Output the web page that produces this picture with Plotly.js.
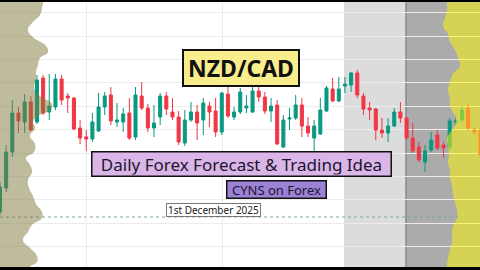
<!DOCTYPE html>
<html><head><meta charset="utf-8">
<script src="https://cdn.plot.ly/plotly-3.0.1.min.js"></script>
<style>html,body{margin:0;padding:0;background:#000;}#c{width:480px;height:270px;}</style>
</head><body><div id="c"></div><script>
// Candle index (session bars)
const bars = [0,1,2,3,4,5,6,7,8,9,10,11,12,13,14,15,16,17,18,19,20,21,22,23,24,25,26,27,28,29,30,31,32,33,34,35,36,37,38,39,40,41,42,43,44,45,46,47,48,49,50,51,52,53,54,55,56,57,58,59,60,61,62,63,64,65,66,67,68,69,70,71,72,73,74,75,76,77,78];
const openP  = [0.7858,0.7882,0.7918,0.7957,0.7948,0.7968,0.7948,0.7992,0.7958,0.7963,0.7991,0.7974,0.7972,0.7942,0.7933,0.7931,0.7939,0.7963,0.7975,0.7948,0.7948,0.7957,0.7933,0.7974,0.7962,0.7942,0.7953,0.7974,0.7958,0.7953,0.7927,0.7950,0.7958,0.7950,0.7964,0.7959,0.7938,0.7976,0.7953,0.7958,0.7962,0.7958,0.7979,0.7973,0.7959,0.7965,0.7923,0.7951,0.7952,0.7965,0.7944,0.7932,0.7936,0.7959,0.7981,0.7969,0.7984,0.7985,0.7997,0.7974,0.7962,0.7961,0.7940,0.7937,0.7944,0.7958,0.7952,0.7932,0.7923,0.7908,0.7920,0.7935,0.7925,0.7923,0.7948,0.7950,0.7962,0.7940,0.7940];
const highP  = [0.7888,0.7925,0.7970,0.7963,0.7976,0.7974,0.7995,0.7995,0.7996,0.7996,0.7995,0.7977,0.7973,0.7950,0.7940,0.7957,0.7977,0.7978,0.7983,0.7967,0.7962,0.7972,0.7983,0.7988,0.7966,0.7965,0.7977,0.7978,0.7972,0.7959,0.7960,0.7968,0.7965,0.7972,0.7968,0.7972,0.7978,0.7988,0.7963,0.7982,0.7975,0.7983,0.7987,0.7978,0.7972,0.7970,0.7955,0.7962,0.7975,0.7972,0.7953,0.7950,0.7972,0.7984,0.7992,0.7993,0.7993,0.7998,0.8000,0.7977,0.7968,0.7962,0.7952,0.7952,0.7962,0.7968,0.7953,0.7947,0.7928,0.7925,0.7938,0.7940,0.7928,0.7952,0.7955,0.7964,0.7966,0.7942,0.7942];
const lowP   = [0.7855,0.7878,0.7913,0.7937,0.7937,0.7939,0.7946,0.7955,0.7950,0.7960,0.7965,0.7957,0.7940,0.7926,0.7919,0.7928,0.7938,0.7955,0.7945,0.7943,0.7938,0.7930,0.7930,0.7960,0.7938,0.7933,0.7945,0.7955,0.7950,0.7925,0.7924,0.7948,0.7930,0.7935,0.7943,0.7933,0.7935,0.7952,0.7950,0.7956,0.7957,0.7957,0.7968,0.7956,0.7948,0.7925,0.7922,0.7940,0.7950,0.7933,0.7933,0.7918,0.7935,0.7958,0.7968,0.7968,0.7977,0.7978,0.7972,0.7955,0.7950,0.7930,0.7932,0.7928,0.7943,0.7947,0.7930,0.7917,0.7908,0.7898,0.7918,0.7920,0.7912,0.7920,0.7945,0.7948,0.7940,0.7935,0.7910];
const closeP = [0.7883,0.7918,0.7957,0.7949,0.7968,0.7940,0.7990,0.7957,0.7964,0.7991,0.7970,0.7972,0.7941,0.7932,0.7931,0.7948,0.7963,0.7974,0.7949,0.7950,0.7956,0.7932,0.7975,0.7962,0.7942,0.7947,0.7974,0.7961,0.7953,0.7928,0.7950,0.7958,0.7947,0.7967,0.7958,0.7938,0.7977,0.7954,0.7958,0.7978,0.7964,0.7979,0.7973,0.7959,0.7964,0.7926,0.7950,0.7952,0.7965,0.7944,0.7937,0.7944,0.7960,0.7982,0.7969,0.7981,0.7986,0.7997,0.7975,0.7961,0.7960,0.7940,0.7937,0.7944,0.7958,0.7952,0.7932,0.7919,0.7910,0.7919,0.7930,0.7922,0.7922,0.7949,0.7949,0.7960,0.7942,0.7938,0.7915];

// Left volume profile (fixed range) : price level -> volume
const vpLeftPrice = [0.8075,0.8068,0.8062,0.8055,0.8048,0.8040,0.8032,0.8025,0.8018,0.8012,0.8005,0.7998,0.7990,0.7982,0.7974,0.7966,0.7960,0.7954,0.7948,0.7942,0.7934,0.7926,0.7918,0.7912,0.7905,0.7898,0.7890,0.7882,0.7874,0.7866,0.7858,0.7852,0.7845,0.7838,0.7830,0.7822,0.7814,0.7808,0.7803,0.7796];
const vpLeftVol   = [43,43,42,40,33,28,34,45,48,40,38,36,36,34,40,52,50,38,33,35,30,35,34,26,30,32,28,29,33,36,42,42,32,28,23,30,37,37,30,30];
// Right volume profile (session) : price level -> volume
const vpRightPrice = [0.8075,0.8068,0.8060,0.8052,0.8044,0.8036,0.8028,0.8020,0.8012,0.8004,0.7996,0.7988,0.7980,0.7972,0.7964,0.7956,0.7948,0.7940,0.7932,0.7924,0.7916,0.7908,0.7900,0.7892,0.7884,0.7876,0.7868,0.7860,0.7852,0.7844,0.7836,0.7828,0.7820,0.7812,0.7803,0.7796];
const vpRightVol   = [33,33,33,35,37,32,30,25,22,20,27,30,32,30,30,26,24,28,33,32,31,32,30,30,28,27,25,23,23,27,28,28,30,32,33,33];

const currentPrice = [0.7853];
const labels = {pair:'NZD/CAD', title:'Daily Forex Forecast &amp; Trading Idea', brand:'CYNS on Forex', date:'1st December 2025'};

const traces = [
  {type:'candlestick', x:bars, open:openP, high:highP, low:lowP, close:closeP, xaxis:'x', yaxis:'y',
   increasing:{line:{color:'#089981', width:1}, fillcolor:'#089981'},
   decreasing:{line:{color:'#f23645', width:1}, fillcolor:'#f23645'},
   whiskerwidth:0, hoverinfo:'skip'},
  {type:'scatter', mode:'lines', x:vpLeftVol, y:vpLeftPrice, xaxis:'x2', yaxis:'y', fill:'tozerox',
   line:{width:0, shape:'spline', smoothing:1.3, color:'rgba(127,121,59,0)'}, fillcolor:'rgba(127,121,59,0.5)', hoverinfo:'skip'},
  {type:'scatter', mode:'lines', x:vpRightVol, y:vpRightPrice, xaxis:'x3', yaxis:'y', fill:'tozerox',
   line:{width:0, shape:'spline', smoothing:1.3, color:'rgba(255,249,0,0)'}, fillcolor:'rgba(255,249,0,0.5)', hoverinfo:'skip'}
];

const layout = {
  width:480, height:270, margin:{l:0,r:0,t:2,b:3,pad:0},
  paper_bgcolor:'#000', plot_bgcolor:'#ffffff', showlegend:false,
  xaxis:{range:[0,77.92], tickmode:'array', tickvals:[13.96,36.04], showgrid:true, gridcolor:'#ececec', gridwidth:1,
         showticklabels:false, ticks:'', zeroline:false, showline:false, rangeslider:{visible:false}, fixedrange:true},
  xaxis2:{overlaying:'x', range:[0,480], visible:false, fixedrange:true},
  xaxis3:{overlaying:'x', range:[480,0], visible:false, fixedrange:true},
  yaxis:{range:[0.7803,0.8068], tick0:0.80573, dtick:0.00234, showgrid:true, gridcolor:'#ececec', gridwidth:1,
         showticklabels:false, ticks:'', zeroline:false, showline:false, fixedrange:true},
  shapes:[
    {type:'rect', xref:'x', yref:'paper', x0:55.84, x1:65.9, y0:0, y1:1, fillcolor:'#dcdcdc', line:{width:0}, layer:'below'},
    {type:'rect', xref:'x', yref:'paper', x0:65.9, x1:80, y0:0, y1:1, fillcolor:'#ababab', line:{width:0}, layer:'below'},
    {type:'line', xref:'x', yref:'paper', x0:65.9, x1:65.9, y0:0, y1:1, line:{color:'#6e6e6e', width:1}, layer:'below'},
    {type:'line', xref:'paper', yref:'y', x0:0, x1:1, y0:currentPrice[0], y1:currentPrice[0], line:{color:'#7fa59a', width:1, dash:'dot'}, layer:'below'}
  ],
  annotations:[
    {xref:'paper', yref:'paper', x:0.503, y:0.751, xanchor:'center', yanchor:'middle', text:'<b>'+labels.pair+'</b>', showarrow:false,
     font:{family:'Noto Sans', size:23, color:'#111'}, bgcolor:'#faee8c', bordercolor:'#111', borderwidth:2, borderpad:2, width:110, height:30},
    {xref:'paper', yref:'paper', x:0.504, y:0.389, xanchor:'center', yanchor:'middle', text:labels.title, showarrow:false,
     font:{family:'Noto Sans', size:17, color:'#1b1530'}, bgcolor:'#dab6e8', bordercolor:'#111', borderwidth:1.5, borderpad:1, width:296, height:21},
    {xref:'paper', yref:'paper', x:0.576, y:0.291, xanchor:'center', yanchor:'middle', text:labels.brand, showarrow:false,
     font:{family:'Noto Sans', size:13, color:'#1b1530'}, bgcolor:'#9c82d4', bordercolor:'#111', borderwidth:1.5, borderpad:1, width:96, height:14},
    {xref:'paper', yref:'paper', x:0.4458, y:0.2151, xanchor:'center', yanchor:'middle', text:labels.date, showarrow:false,
     font:{family:'Noto Sans', size:10, color:'#222'}, bgcolor:'#ffffff', bordercolor:'#777', borderwidth:1, borderpad:0, width:93, height:12}
  ]
};
Plotly.newPlot('c', traces, layout, {staticPlot:true, displayModeBar:false});
</script></body></html>
